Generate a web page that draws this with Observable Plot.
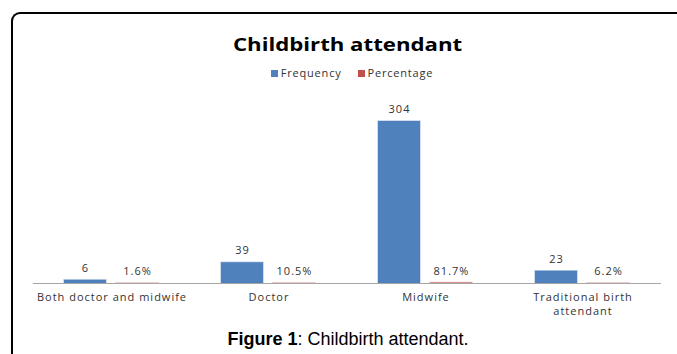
<!DOCTYPE html>
<html><head><meta charset="utf-8">
<script src="https://cdn.jsdelivr.net/npm/d3@7"></script>
<script src="https://cdn.jsdelivr.net/npm/@observablehq/plot@0.6"></script>
<style>
body{margin:0;background:#fff;}
#wrap{position:relative;width:677px;height:354px;overflow:hidden;background:#fff;}
#frame{position:absolute;left:11px;top:12px;width:720px;height:420px;border-left:2px solid #000;border-top:2px solid #000;border-top-left-radius:9px;box-sizing:border-box;}
#title{position:absolute;left:18px;width:660px;top:31px;text-align:center;line-height:26px;}
#title span{display:inline-block;font-family:"Open Sans",sans-serif;font-weight:bold;font-size:18.5px;color:#000;transform:scaleX(1.2);}
#legend{position:absolute;left:22px;width:660px;top:65px;text-align:center;font-family:"Open Sans",sans-serif;font-size:11px;letter-spacing:0.8px;color:#333;}
#legend span.sw{display:inline-block;width:7px;height:7px;margin-right:3px;vertical-align:0px;}
#legend span.item{margin:0 8px;}
#plot{position:absolute;left:0;top:90px;}
#caption{position:absolute;left:18px;width:660px;top:329px;text-align:center;font-family:"Liberation Sans Narrow","Liberation Sans",Arial,sans-serif;font-size:18px;color:#000;}
</style></head>
<body>
<div id="wrap">
  <div id="frame"></div>
  <div id="title"><span>Childbirth attendant</span></div>
  <div id="legend"></div>
  <div id="plot"></div>
  <div id="caption"><b>Figure 1</b>: Childbirth attendant.</div>
</div>
<script>
const categories = ["Both doctor and midwife", "Doctor", "Midwife", "Traditional birth\nattendant"];
const frequency = [6, 39, 304, 23];
const percentage = [1.6, 10.5, 81.7, 6.2];
const seriesNames = ["Frequency", "Percentage"];
const seriesColors = ["#4F81BD", "#C0504D"];

const rows = [];
categories.forEach((c, i) => {
  rows.push({category: c, series: "Frequency", value: frequency[i], label: String(frequency[i])});
  rows.push({category: c, series: "Percentage", value: percentage[i] / 100, label: percentage[i].toFixed(1) + "%"});
});

const legend = document.getElementById("legend");
seriesNames.forEach((s, i) => {
  const it = document.createElement("span");
  it.className = "item";
  it.innerHTML = `<span class="sw" style="background:${seriesColors[i]}"></span>${s}`;
  legend.appendChild(it);
});

const chart = Plot.plot({
  width: 677,
  height: 230,
  marginLeft: 33,
  marginRight: 16,
  marginTop: 31,
  marginBottom: 37,
  style: {fontFamily: "'Open Sans', sans-serif", fontSize: "11px", letterSpacing: "1px", color: "#333", background: "transparent"},
  fx: {domain: categories, padding: 0, label: null, axis: null},
  x: {domain: seriesNames, paddingInner: 0.19, paddingOuter: 0.6, axis: null},
  y: {domain: [0, 304], axis: null},
  color: {domain: seriesNames, range: seriesColors},
  marks: [
    Plot.axisFx({anchor: "bottom", tickSize: 0, tickPadding: 8, label: null, lineHeight: 1.27, fill: "#333", fontSize: 11}),
    Plot.barY(rows, {fx: "category", x: "series", y: "value", fill: "series", stroke: "series", strokeWidth: 1.5, strokeOpacity: 0.35}),
    Plot.ruleY([0], {stroke: "#A6A6A6", strokeWidth: 1}),
    Plot.text(rows, {fx: "category", x: "series", y: "value", text: "label", dy: -12, fill: "#333", fontSize: 11})
  ]
});
document.getElementById("plot").appendChild(chart);
</script>
</body></html>
